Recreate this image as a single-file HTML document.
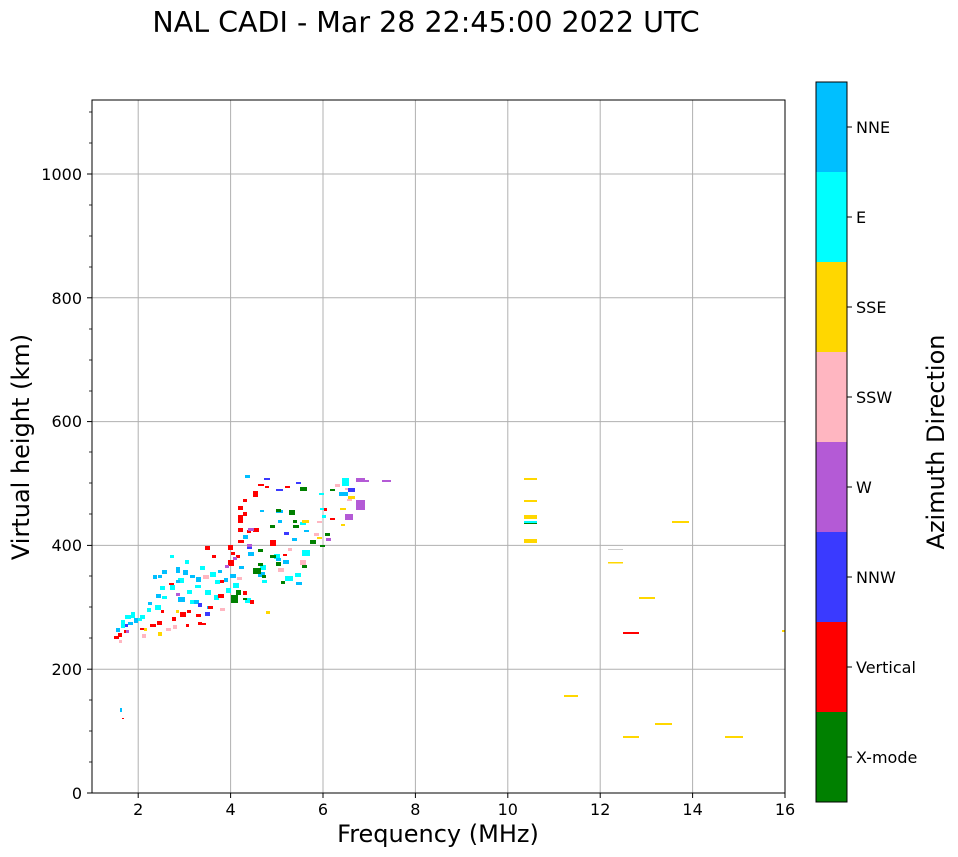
<!DOCTYPE html>
<html><head><meta charset="utf-8"><style>
body{margin:0;background:#fff;}
svg{display:block;font-family:"DejaVu Sans","Liberation Sans",sans-serif;}
</style></head><body>
<svg width="958" height="857" viewBox="0 0 958 857" xmlns="http://www.w3.org/2000/svg">
<rect width="958" height="857" fill="#fff"/>
<text x="426" y="32" font-size="28.5" text-anchor="middle">NAL CADI - Mar 28 22:45:00 2022 UTC</text>
<g stroke="#b0b0b0" stroke-width="1">
<line x1="138.2" y1="100" x2="138.2" y2="793"/><line x1="230.6" y1="100" x2="230.6" y2="793"/>
<line x1="323" y1="100" x2="323" y2="793"/><line x1="415.4" y1="100" x2="415.4" y2="793"/>
<line x1="507.8" y1="100" x2="507.8" y2="793"/><line x1="600.2" y1="100" x2="600.2" y2="793"/>
<line x1="692.6" y1="100" x2="692.6" y2="793"/>
<line x1="92" y1="669.2" x2="785" y2="669.2"/><line x1="92" y1="545.4" x2="785" y2="545.4"/>
<line x1="92" y1="421.6" x2="785" y2="421.6"/><line x1="92" y1="297.8" x2="785" y2="297.8"/>
<line x1="92" y1="174" x2="785" y2="174"/>
</g>
<g>
<rect x="524" y="478" width="13" height="2" fill="#ffd700"/>
<rect x="524" y="500" width="13" height="2" fill="#ffd700"/>
<rect x="524" y="515" width="13" height="4" fill="#ffd700"/>
<rect x="524" y="521" width="13" height="2" fill="#00ffff"/>
<rect x="524" y="523" width="13" height="1" fill="#008000"/>
<rect x="524" y="539" width="13" height="4" fill="#ffd700"/>
<rect x="672" y="521" width="17" height="2" fill="#ffd700"/>
<rect x="608" y="549" width="15" height="1" fill="#ccc"/>
<rect x="608" y="562" width="15" height="1.5" fill="#ffd700"/>
<rect x="639" y="597" width="16" height="2" fill="#ffd700"/>
<rect x="623" y="632" width="16" height="2" fill="#ff0000"/>
<rect x="564" y="695" width="14" height="2" fill="#ffd700"/>
<rect x="655" y="723" width="17" height="2" fill="#ffd700"/>
<rect x="623" y="736" width="16" height="2" fill="#ffd700"/>
<rect x="725" y="736" width="18" height="2" fill="#ffd700"/>
<rect x="782" y="630" width="3" height="2" fill="#ffd700"/>
<rect x="120" y="708" width="2" height="4" fill="#00bfff"/>
<rect x="122" y="718" width="2" height="1" fill="#ff0000"/>
<g fill="#00ffff">
<rect x="121" y="620" width="4" height="8"/><rect x="125" y="615" width="6" height="4"/><rect x="131" y="612" width="4" height="6"/>
<rect x="140" y="615" width="5" height="4"/><rect x="147" y="608" width="4" height="4"/><rect x="155" y="605" width="6" height="5"/>
<rect x="162" y="596" width="5" height="3"/><rect x="170" y="585" width="5" height="5"/><rect x="178" y="578" width="6" height="5"/>
<rect x="187" y="590" width="5" height="4"/><rect x="195" y="585" width="6" height="3"/><rect x="205" y="590" width="6" height="5"/>
<rect x="214" y="595" width="5" height="5"/><rect x="200" y="566" width="5" height="4"/><rect x="210" y="572" width="6" height="5"/>
<rect x="226" y="588" width="5" height="5"/><rect x="233" y="583" width="6" height="5"/><rect x="245" y="598" width="6" height="5"/>
<rect x="138" y="618" width="4" height="3"/><rect x="170" y="555" width="4" height="3"/><rect x="185" y="560" width="4" height="4"/>
<rect x="260" y="565" width="6" height="5"/><rect x="262" y="580" width="5" height="3"/><rect x="274" y="554" width="6" height="5"/>
<rect x="285" y="576" width="8" height="5"/><rect x="295" y="573" width="6" height="4"/><rect x="302" y="550" width="8" height="6"/>
<rect x="319" y="493" width="5" height="2"/><rect x="320" y="508" width="7" height="2"/><rect x="270" y="555" width="4" height="3"/>
<rect x="300" y="522" width="6" height="3"/><rect x="342" y="478" width="7" height="8"/><rect x="322" y="515" width="4" height="3"/>
<rect x="190" y="600" width="8" height="4"/><rect x="215" y="580" width="5" height="4"/><rect x="160" y="586" width="5" height="4"/>
</g>
<g fill="#00bfff">
<rect x="116" y="628" width="4" height="4"/><rect x="128" y="622" width="5" height="3"/><rect x="134" y="618" width="4" height="5"/>
<rect x="148" y="602" width="4" height="3"/><rect x="156" y="594" width="5" height="4"/><rect x="158" y="575" width="4" height="3"/>
<rect x="162" y="570" width="5" height="4"/><rect x="176" y="567" width="4" height="6"/><rect x="183" y="570" width="5" height="5"/>
<rect x="190" y="575" width="5" height="3"/><rect x="176" y="580" width="4" height="3"/><rect x="153" y="575" width="4" height="4"/>
<rect x="194" y="600" width="5" height="4"/><rect x="178" y="597" width="7" height="5"/><rect x="196" y="577" width="5" height="5"/>
<rect x="218" y="570" width="4" height="3"/><rect x="207" y="606" width="4" height="3"/><rect x="224" y="578" width="4" height="4"/>
<rect x="230" y="574" width="6" height="4"/><rect x="239" y="566" width="5" height="3"/><rect x="258" y="572" width="7" height="5"/>
<rect x="276" y="558" width="5" height="3"/><rect x="283" y="560" width="6" height="4"/><rect x="296" y="582" width="6" height="3"/>
<rect x="292" y="538" width="5" height="3"/><rect x="278" y="520" width="4" height="3"/><rect x="276" y="510" width="7" height="3"/>
<rect x="245" y="475" width="5" height="3"/><rect x="248" y="552" width="6" height="4"/><rect x="243" y="535" width="5" height="4"/>
<rect x="339" y="492" width="9" height="4"/><rect x="304" y="530" width="5" height="2"/><rect x="260" y="510" width="4" height="2"/>
</g>
<g fill="#ff0000">
<rect x="114" y="636" width="5" height="3"/><rect x="118" y="633" width="4" height="4"/><rect x="124" y="630" width="4" height="3"/>
<rect x="140" y="628" width="5" height="2"/><rect x="150" y="624" width="6" height="3"/><rect x="157" y="621" width="5" height="4"/>
<rect x="172" y="617" width="4" height="4"/><rect x="180" y="612" width="6" height="5"/><rect x="187" y="610" width="4" height="3"/>
<rect x="196" y="614" width="5" height="3"/><rect x="186" y="624" width="3" height="3"/><rect x="201" y="623" width="5" height="2"/>
<rect x="208" y="606" width="5" height="3"/><rect x="218" y="594" width="6" height="4"/><rect x="220" y="580" width="4" height="3"/>
<rect x="228" y="560" width="6" height="6"/><rect x="228" y="545" width="5" height="5"/><rect x="236" y="555" width="4" height="3"/>
<rect x="231" y="552" width="4" height="3"/><rect x="243" y="591" width="4" height="4"/><rect x="250" y="600" width="4" height="4"/>
<rect x="238" y="540" width="6" height="3"/><rect x="253" y="491" width="5" height="6"/><rect x="258" y="484" width="6" height="2"/>
<rect x="243" y="499" width="4" height="3"/><rect x="238" y="506" width="5" height="4"/><rect x="243" y="512" width="4" height="4"/>
<rect x="238" y="515" width="5" height="8"/><rect x="238" y="528" width="5" height="4"/><rect x="247" y="530" width="4" height="3"/>
<rect x="253" y="528" width="6" height="4"/><rect x="270" y="540" width="6" height="6"/><rect x="283" y="554" width="4" height="2"/>
<rect x="285" y="486" width="5" height="2"/><rect x="330" y="518" width="5" height="2"/><rect x="324" y="508" width="3" height="3"/>
<rect x="205" y="546" width="5" height="4"/><rect x="212" y="555" width="4" height="3"/><rect x="169" y="583" width="5" height="2"/>
<rect x="161" y="610" width="3" height="3"/><rect x="198" y="622" width="4" height="3"/><rect x="265" y="486" width="4" height="2"/>
</g>
<g fill="#008000">
<rect x="231" y="595" width="7" height="8"/><rect x="236" y="590" width="5" height="5"/><rect x="243" y="598" width="4" height="2"/>
<rect x="253" y="568" width="8" height="6"/><rect x="258" y="563" width="5" height="3"/><rect x="262" y="575" width="4" height="3"/>
<rect x="258" y="549" width="5" height="3"/><rect x="270" y="555" width="6" height="3"/><rect x="276" y="562" width="5" height="4"/>
<rect x="281" y="581" width="4" height="3"/><rect x="289" y="510" width="6" height="5"/><rect x="300" y="487" width="7" height="4"/>
<rect x="276" y="509" width="5" height="3"/><rect x="293" y="525" width="6" height="3"/><rect x="270" y="525" width="5" height="3"/>
<rect x="330" y="489" width="5" height="2"/><rect x="325" y="533" width="5" height="3"/><rect x="310" y="540" width="6" height="4"/>
<rect x="302" y="565" width="5" height="3"/><rect x="320" y="545" width="5" height="2"/><rect x="293" y="520" width="4" height="3"/>
</g>
<g fill="#ffb6c1">
<rect x="119" y="640" width="3" height="3"/><rect x="142" y="634" width="4" height="4"/><rect x="166" y="628" width="5" height="3"/>
<rect x="173" y="625" width="4" height="4"/><rect x="203" y="575" width="6" height="4"/><rect x="220" y="608" width="5" height="3"/>
<rect x="237" y="577" width="5" height="3"/><rect x="278" y="568" width="6" height="4"/><rect x="300" y="560" width="6" height="5"/>
<rect x="314" y="533" width="5" height="3"/><rect x="317" y="521" width="5" height="2"/><rect x="345" y="488" width="5" height="2"/>
<rect x="335" y="484" width="5" height="3"/><rect x="347" y="499" width="5" height="2"/><rect x="288" y="548" width="4" height="3"/>
</g>
<g fill="#ffd700">
<rect x="144" y="628" width="3" height="3"/><rect x="158" y="632" width="4" height="4"/><rect x="176" y="610" width="3" height="3"/>
<rect x="302" y="520" width="7" height="3"/><rect x="341" y="524" width="4" height="2"/><rect x="348" y="496" width="7" height="3"/>
<rect x="340" y="508" width="6" height="2"/><rect x="317" y="537" width="5" height="2"/><rect x="266" y="611" width="4" height="3"/>
</g>
<g fill="#3a3aff">
<rect x="125" y="624" width="3" height="3"/><rect x="198" y="603" width="4" height="4"/><rect x="205" y="612" width="5" height="4"/>
<rect x="276" y="489" width="7" height="2"/><rect x="264" y="478" width="6" height="2"/><rect x="296" y="482" width="5" height="2"/>
<rect x="348" y="488" width="7" height="4"/><rect x="247" y="546" width="5" height="3"/><rect x="284" y="532" width="5" height="3"/>
</g>
<g fill="#b45ad6">
<rect x="126" y="630" width="3" height="3"/><rect x="176" y="593" width="4" height="3"/><rect x="225" y="565" width="4" height="3"/>
<rect x="248" y="528" width="6" height="3"/><rect x="247" y="544" width="5" height="3"/><rect x="356" y="478" width="9" height="4"/>
<rect x="356" y="500" width="9" height="10"/><rect x="345" y="514" width="8" height="6"/><rect x="362" y="480" width="7" height="2"/>
<rect x="382" y="480" width="9" height="2"/><rect x="326" y="538" width="5" height="3"/><rect x="233" y="557" width="4" height="3"/>
</g>
</g>
<rect x="92" y="100" width="693" height="693" fill="none" stroke="#000" stroke-width="1"/>
<g stroke="#000">
<line x1="138.2" y1="793" x2="138.2" y2="798"/><line x1="230.6" y1="793" x2="230.6" y2="798"/>
<line x1="323" y1="793" x2="323" y2="798"/><line x1="415.4" y1="793" x2="415.4" y2="798"/>
<line x1="507.8" y1="793" x2="507.8" y2="798"/><line x1="600.2" y1="793" x2="600.2" y2="798"/>
<line x1="692.6" y1="793" x2="692.6" y2="798"/><line x1="785" y1="793" x2="785" y2="798"/>
<line x1="92" y1="793" x2="87" y2="793"/><line x1="92" y1="669.2" x2="87" y2="669.2"/>
<line x1="92" y1="545.4" x2="87" y2="545.4"/><line x1="92" y1="421.6" x2="87" y2="421.6"/>
<line x1="92" y1="297.8" x2="87" y2="297.8"/><line x1="92" y1="174" x2="87" y2="174"/>
</g>
<g stroke="#000" stroke-width="0.8">
<line x1="92" y1="762" x2="89" y2="762"/><line x1="92" y1="731" x2="89" y2="731"/><line x1="92" y1="700" x2="89" y2="700"/>
<line x1="92" y1="638" x2="89" y2="638"/><line x1="92" y1="607" x2="89" y2="607"/><line x1="92" y1="576" x2="89" y2="576"/>
<line x1="92" y1="514" x2="89" y2="514"/><line x1="92" y1="483" x2="89" y2="483"/><line x1="92" y1="452" x2="89" y2="452"/>
<line x1="92" y1="391" x2="89" y2="391"/><line x1="92" y1="360" x2="89" y2="360"/><line x1="92" y1="329" x2="89" y2="329"/>
<line x1="92" y1="267" x2="89" y2="267"/><line x1="92" y1="236" x2="89" y2="236"/><line x1="92" y1="205" x2="89" y2="205"/>
<line x1="92" y1="143" x2="89" y2="143"/><line x1="92" y1="112" x2="89" y2="112"/>
</g>
<g font-size="16" text-anchor="middle">
<text x="138.2" y="815">2</text><text x="230.6" y="815">4</text><text x="323" y="815">6</text>
<text x="415.4" y="815">8</text><text x="507.8" y="815">10</text><text x="600.2" y="815">12</text>
<text x="692.6" y="815">14</text><text x="785" y="815">16</text>
</g>
<g font-size="16" text-anchor="end">
<text x="82" y="799">0</text><text x="82" y="675">200</text><text x="82" y="551">400</text>
<text x="82" y="427">600</text><text x="82" y="304">800</text><text x="82" y="180">1000</text>
</g>
<text x="438" y="842" font-size="24" text-anchor="middle">Frequency (MHz)</text>
<text transform="translate(29,447) rotate(-90)" font-size="24" text-anchor="middle">Virtual height (km)</text>
<rect x="816" y="82" width="31" height="90" fill="#00bfff"/>
<rect x="816" y="172" width="31" height="90" fill="#00ffff"/>
<rect x="816" y="262" width="31" height="90" fill="#ffd700"/>
<rect x="816" y="352" width="31" height="90" fill="#ffb6c1"/>
<rect x="816" y="442" width="31" height="90" fill="#b45ad6"/>
<rect x="816" y="532" width="31" height="90" fill="#3a3aff"/>
<rect x="816" y="622" width="31" height="90" fill="#ff0000"/>
<rect x="816" y="712" width="31" height="90" fill="#008000"/>
<rect x="816" y="82" width="31" height="720" fill="none" stroke="#000" stroke-width="1"/>
<g stroke="#000">
<line x1="847" y1="127" x2="852" y2="127"/><line x1="847" y1="217" x2="852" y2="217"/>
<line x1="847" y1="307" x2="852" y2="307"/><line x1="847" y1="397" x2="852" y2="397"/>
<line x1="847" y1="487" x2="852" y2="487"/><line x1="847" y1="577" x2="852" y2="577"/>
<line x1="847" y1="667" x2="852" y2="667"/><line x1="847" y1="757" x2="852" y2="757"/>
</g>
<g font-size="16">
<text x="856" y="133">NNE</text><text x="856" y="223">E</text><text x="856" y="313">SSE</text>
<text x="856" y="403">SSW</text><text x="856" y="493">W</text><text x="856" y="583">NNW</text>
<text x="856" y="673">Vertical</text><text x="856" y="763">X-mode</text>
</g>
<text transform="translate(944,442) rotate(-90)" font-size="24" text-anchor="middle">Azimuth Direction</text>
</svg>
</body></html>
